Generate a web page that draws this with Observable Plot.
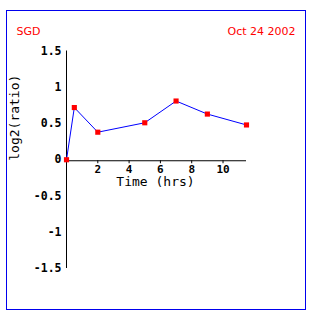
<!DOCTYPE html>
<html><head><meta charset="utf-8">
<script src="https://cdn.jsdelivr.net/npm/d3@7"></script>
<script src="https://cdn.jsdelivr.net/npm/@observablehq/plot@0.6"></script>
<style>
body{margin:0;background:#fff;}
#wrap{position:relative;width:336px;height:321px;}
#border{position:absolute;left:6px;top:10px;width:300px;height:300px;box-sizing:border-box;border:1px solid #0000ee;pointer-events:none;}
</style>
</head><body>
<div id="wrap"><div id="border"></div></div>
<script>
const times = [0, 0.5, 2, 5, 7, 9, 11.5];
const ratios = [0, 0.72, 0.38, 0.51, 0.81, 0.63, 0.48];
const xTicks = [2, 4, 6, 8, 10];
const yTicks = [-1.5, -1, -0.5, 0, 0.5, 1, 1.5];
const titleLeft = "SGD";
const titleRight = "Oct 24 2002";
const xLabel = "Time (hrs)";
const yLabel = "log2(ratio)";

const data = times.map((t, i) => ({t, r: ratios[i]}));
const W = 336, H = 321, mT = 50.5, mB = 53, mL = 66, mR = 90;
const zeroOffset = (H - mT - mB) / 2;
const mono = "DejaVu Sans Mono, monospace";

const chart = Plot.plot({
  width: W, height: H,
  marginTop: mT, marginBottom: mB, marginLeft: mL, marginRight: mR,
  style: {background: "transparent", overflow: "visible"},
  x: {domain: [0, 11.5]},
  y: {domain: [-1.5, 1.5]},
  marks: [
    Plot.ruleX([0], {y1: -1.5, y2: 1.5, stroke: "black"}),
    Plot.ruleY([0], {x1: 0, x2: 11.5, stroke: "black", dy: 1}),
    Plot.axisY(yTicks, {anchor: "left", tickSize: 4, tickPadding: 1, label: null,
      tickFormat: d => String(d), fontWeight: "bold", fontFamily: mono, fontSize: 11.5, fill: "black", stroke: null}),
    Plot.axisX(xTicks, {anchor: "bottom", dy: -zeroOffset + 1, tickSize: 3, tickPadding: 1, label: null,
      tickFormat: d => String(d), fontWeight: "bold", fontFamily: mono, fontSize: 11}),
    Plot.line(data, {x: "t", y: "r", stroke: "#0000ff", strokeWidth: 1}),
    Plot.dot(data, {x: "t", y: "r", symbol: "square", r: 2.9, fill: "#ff0000", stroke: null}),
    Plot.text([xLabel], {frameAnchor: "middle", dx: -1, dy: 22.5, fontFamily: mono, fontSize: 13, fill: "black"}),
    Plot.text([yLabel], {frameAnchor: "left", rotate: -90, dx: -52, dy: 1, fontFamily: mono, fontSize: 13, fill: "black"}),
    Plot.text([titleLeft], {frameAnchor: "top-left", dx: -50, dy: -23.5, textAnchor: "start", fontFamily: "DejaVu Sans, sans-serif", fontSize: 11, fill: "#ff0000"}),
    Plot.text([titleRight], {frameAnchor: "top-right", dx: 49, dy: -23.5, textAnchor: "end", fontFamily: "DejaVu Sans, sans-serif", fontSize: 11, fill: "#ff0000"})
  ]
});
chart.style.position = "absolute";
chart.style.left = "0";
chart.style.top = "0";
document.getElementById("wrap").appendChild(chart);
</script>
</body></html>
